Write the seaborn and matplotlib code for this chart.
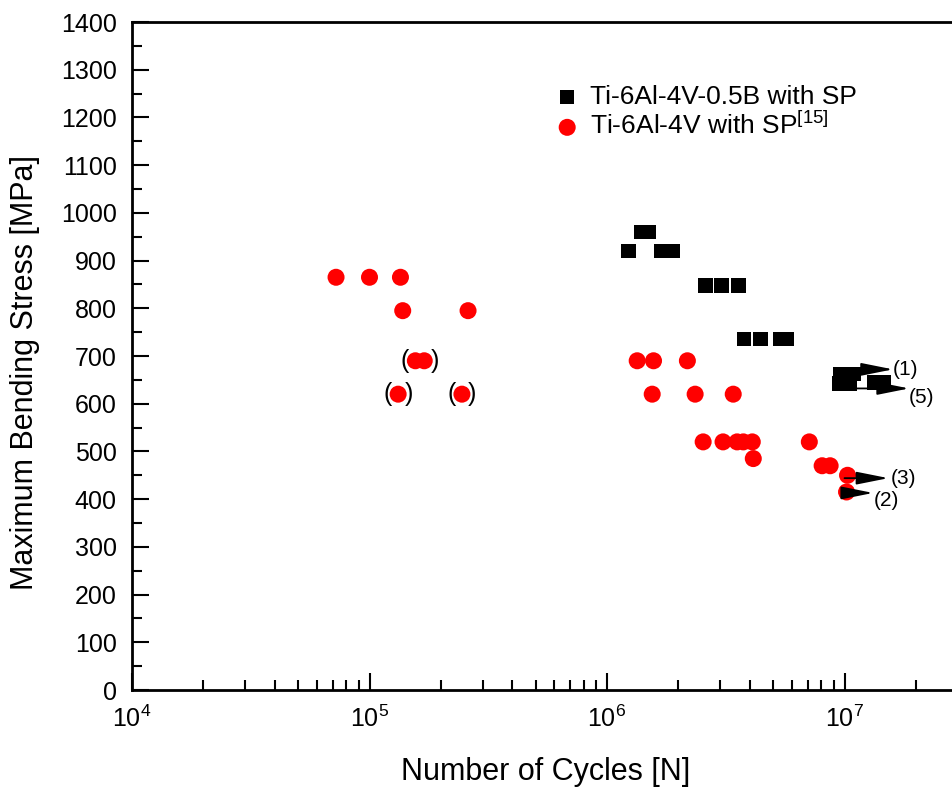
import numpy as np
import pandas as pd
import matplotlib
matplotlib.use("Agg")
import matplotlib.pyplot as plt
import seaborn as sns
from matplotlib.ticker import FixedLocator, LogLocator, MultipleLocator, LogFormatterSciNotation

# Ti-6Al-4V-0.5B with SP (black squares)
boron_cycles = [1.23e6, 1.40e6, 1.50e6, 1.69e6, 1.90e6,
                2.60e6, 3.03e6, 3.57e6,
                3.78e6, 4.42e6, 5.37e6, 5.69e6,
                9.6e6, 1.09e7, 9.5e6, 1.05e7, 1.34e7, 1.46e7]
boron_stress = [920, 960, 960, 920, 920,
                848, 848, 848,
                736, 736, 736, 736,
                662, 662, 642, 642, 645, 645]

# Ti-6Al-4V with SP [15] (red circles)
ref_cycles = [7.23e4, 1.0e5, 1.35e5, 1.38e5, 2.60e5,
              1.56e5, 1.70e5, 1.32e5, 2.45e5,
              1.34e6, 1.57e6, 2.18e6,
              1.55e6, 2.35e6, 3.40e6,
              2.54e6, 3.08e6, 3.53e6, 3.75e6, 4.09e6, 7.11e6,
              4.13e6, 8.05e6, 8.7e6, 1.03e7, 1.02e7]
ref_stress = [865, 865, 865, 795, 795,
              690, 690, 620, 620,
              690, 690, 690,
              620, 620, 620,
              520, 520, 520, 520, 520, 520,
              485, 470, 470, 450, 415]

# points drawn inside parentheses: (first cycles, last cycles, stress)
paren_groups = [(1.56e5, 1.70e5, 690), (1.32e5, 1.32e5, 620), (2.45e5, 2.45e5, 620)]

# run-out arrows: tail, head, label, label position
runouts = [
    ((1.0e7, 672), (1.6e7, 672), "(1)", (1.80e7, 671)),
    ((1.1e7, 632), (1.87e7, 632), "(5)", (2.10e7, 612)),
    ((1.0e7, 444), (1.53e7, 444), "(3)", (1.77e7, 444)),
    ((1.0e7, 413), (1.32e7, 413), "(2)", (1.50e7, 398)),
]

x_major = [1e4, 1e5, 1e6, 1e7]

df_b = pd.DataFrame({"cycles": boron_cycles, "stress": boron_stress})
df_r = pd.DataFrame({"cycles": ref_cycles, "stress": ref_stress})

sns.set_style("ticks")
plt.rcParams["font.family"] = ["Liberation Sans", "DejaVu Sans"]
plt.rcParams["mathtext.fontset"] = "custom"
plt.rcParams["mathtext.rm"] = "Liberation Sans"
plt.rcParams["mathtext.it"] = "Liberation Sans"
plt.rcParams["mathtext.default"] = "regular"
for key in ["text.color", "axes.labelcolor", "xtick.color", "ytick.color"]:
    plt.rcParams[key] = "black"

fig = plt.figure(figsize=(9.52, 7.92), dpi=100)
ax = fig.add_axes([132 / 952, 102 / 792, 950 / 952, 668 / 792])

sns.scatterplot(data=df_b, x="cycles", y="stress", marker="s", s=110, color="black",
                edgecolor="none", linewidth=0, label="Ti-6Al-4V-0.5B with SP", ax=ax, zorder=3)
sns.scatterplot(data=df_r, x="cycles", y="stress", marker="o", s=150, color="#ff0000",
                edgecolor="none", linewidth=0, label="Ti-6Al-4V with SP$^{[15]}$", ax=ax, zorder=3)

ax.set_xscale("log")
ax.set_xlim(1e4, 1e8)
ax.set_ylim(0, 1400)

for x0, x1, y in paren_groups:
    ax.annotate("(", xy=(x0, y), xytext=(-7.5, 0), textcoords="offset points",
                ha="center", va="center", fontsize=18, zorder=2)
    ax.annotate(")", xy=(x1, y), xytext=(7.5, 0), textcoords="offset points",
                ha="center", va="center", fontsize=18, zorder=2)

for tail, head, lab, pos in runouts:
    ax.annotate("", xy=head, xytext=tail,
                arrowprops=dict(arrowstyle="-|>,head_length=1.4,head_width=0.28",
                                color="black", lw=1.3, mutation_scale=14,
                                shrinkA=0, shrinkB=0), zorder=4)
    ax.text(pos[0], pos[1], lab, fontsize=15, ha="center", va="center", zorder=4)

ax.yaxis.set_major_locator(MultipleLocator(100))
ax.yaxis.set_minor_locator(MultipleLocator(50))
ax.xaxis.set_major_locator(FixedLocator(x_major))
ax.xaxis.set_minor_locator(LogLocator(base=10, subs=np.arange(2, 10), numticks=20))
ax.xaxis.set_major_formatter(LogFormatterSciNotation())

ax.tick_params(which="both", direction="in", width=1.5, labelsize=18, pad=11,
               top=False, right=False)
ax.tick_params(which="major", length=12)
ax.tick_params(which="minor", length=7)
for s in ax.spines.values():
    s.set_linewidth(2)
    s.set_color("black")

ax.set_xlabel("Number of Cycles [N]", fontsize=22)
ax.set_ylabel("Maximum Bending Stress [MPa]", fontsize=22)
ax.xaxis.set_label_coords(0.435, -0.100)
ax.yaxis.set_label_coords(-0.097, 0.476)

ax.legend(loc="upper left", bbox_to_anchor=(554 / 952, 1 - 85 / 792),
          bbox_transform=fig.transFigure, frameon=False, fontsize=19,
          borderpad=0, borderaxespad=0, handletextpad=0.35, labelspacing=0.12,
          markerscale=1.0, handlelength=1.0)

fig.savefig("out.png", dpi=100)
